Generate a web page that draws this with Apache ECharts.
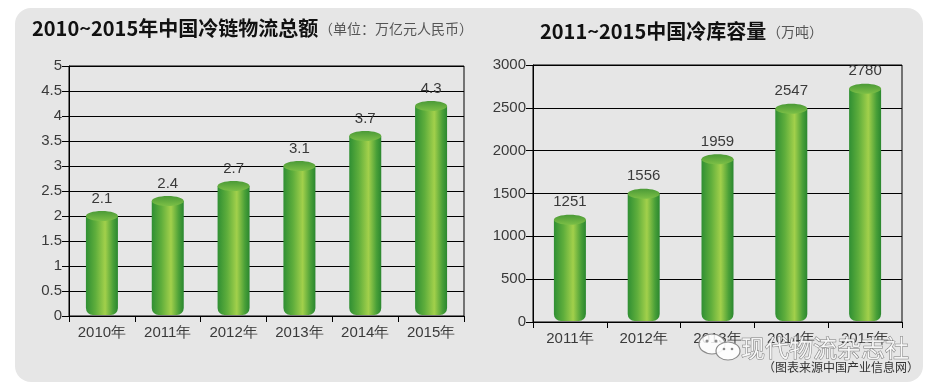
<!DOCTYPE html>
<html><head><meta charset="utf-8">
<script src="https://cdn.jsdelivr.net/npm/echarts@6/dist/echarts.min.js"></script>
<style>html,body{margin:0;padding:0;background:#fff}#c{width:929px;height:391px}</style>
</head><body><div id="c"></div>
<script>
// ---- data ----
const catsLeft = ['2010年', '2011年', '2012年', '2013年', '2014年', '2015年'];
const valsLeft = [2.1, 2.4, 2.7, 3.1, 3.7, 4.3];
const catsRight = ['2011年', '2012年', '2013年', '2014年', '2015年'];
const valsRight = [1251, 1556, 1959, 2547, 2780];
const titleLeft = '2010~2015年中国冷链物流总额';
const unitLeft = '（单位：万亿元人民币）';
const titleRight = '2011~2015中国冷库容量';
const unitRight = '（万吨）';
const watermark = '现代物流杂志社';
const sourceText = '（图表来源中国产业信息网）';

const chart = echarts.init(document.getElementById('c'), null, {renderer: 'canvas'});
const G = echarts.graphic;
const FONT = '"Liberation Sans", Arial, sans-serif';
const CJK = '"Noto Sans CJK SC", sans-serif';
const labelColor = '#3a3a3a';
const BW = 32, CAPH = 10;

function bodyColor() {
  return new G.LinearGradient(0, 0, 1, 0, [
    {offset: 0, color: '#2f8f33'},
    {offset: 0.3, color: '#5fae3c'},
    {offset: 0.6, color: '#a2d04b'},
    {offset: 0.85, color: '#4aa038'},
    {offset: 1, color: '#2a872f'}
  ]);
}
function capColor() {
  return new G.LinearGradient(0, 0, 0, 1, [
    {offset: 0, color: '#4b9a37'},
    {offset: 1, color: '#7cbf46'}
  ]);
}

function xAxis(idx, data) {
  return {
    type: 'category', gridIndex: idx, data: data,
    axisLine: {show: true, lineStyle: {color: '#000', width: 1}},
    axisTick: {show: true, length: 6, lineStyle: {color: '#000'}},
    axisLabel: {color: labelColor, fontSize: 15, fontFamily: FONT, margin: 9},
    splitLine: {show: false}
  };
}
function yAxis(idx, max, interval) {
  return {
    type: 'value', gridIndex: idx, min: 0, max: max, interval: interval,
    axisLine: {show: true, lineStyle: {color: '#000', width: 1}},
    axisTick: {show: true, length: 7, lineStyle: {color: '#000'}},
    axisLabel: {color: labelColor, fontSize: 15, fontFamily: FONT, margin: 7, formatter: v => String(v)},
    splitLine: {show: true, lineStyle: {color: '#000', width: 1}}
  };
}
function cylSeries(idx, vals) {
  return {
    type: 'custom', xAxisIndex: idx, yAxisIndex: idx, data: vals.map((v, i) => [i, v]),
    encode: {x: 0, y: 1}, clip: false, z: 3,
    renderItem: function (params, api) {
      const top = api.coord([api.value(0), api.value(1)]);
      const base = api.coord([api.value(0), 0]);
      const cx = top[0];
      const capCy = top[1] + CAPH / 2;
      const bottom = base[1] - 1;
      return {
        type: 'group',
        children: [
          {type: 'rect', shape: {x: cx - BW / 2, y: capCy, width: BW, height: bottom - capCy, r: [0, 0, 7, 7]}, style: {fill: bodyColor()}},
          {type: 'ellipse', shape: {cx: cx, cy: capCy, rx: BW / 2, ry: CAPH / 2}, style: {fill: capColor()}},
          {type: 'text', x: cx, y: top[1] - 5, style: {text: String(api.value(1)), font: '15px ' + FONT, fill: labelColor, textAlign: 'center', textVerticalAlign: 'bottom'}}
        ]
      };
    }
  };
}

chart.setOption({
  animation: false,
  backgroundColor: '#ffffff',
  grid: [
    {left: 69, right: 465, top: 66, bottom: 75, show: true, borderColor: '#000', borderWidth: 1, backgroundColor: 'transparent'},
    {left: 533, right: 27, top: 65, bottom: 69, show: true, borderColor: '#000', borderWidth: 1, backgroundColor: 'transparent'}
  ],
  xAxis: [xAxis(0, catsLeft), xAxis(1, catsRight)],
  yAxis: [yAxis(0, 5, 0.5), yAxis(1, 3000, 500)],
  series: [cylSeries(0, valsLeft), cylSeries(1, valsRight)],
  graphic: [
    {type: 'rect', z: -10, shape: {x: 15, y: 8, width: 908, height: 374, r: 16}, style: {fill: '#e6e6e6'}},
    {type: 'text', z: 10, x: 32, y: 28, style: {text: titleLeft, font: 'bold 20px ' + CJK, fill: '#111', textVerticalAlign: 'middle'}},
    {type: 'text', z: 10, x: 319, y: 29, style: {text: unitLeft, font: '14px ' + CJK, fill: '#555', textVerticalAlign: 'middle'}},
    {type: 'text', z: 10, x: 540, y: 31, style: {text: titleRight, font: 'bold 20px ' + CJK, fill: '#111', textVerticalAlign: 'middle'}},
    {type: 'text', z: 10, x: 767, y: 32, style: {text: unitRight, font: '14px ' + CJK, fill: '#555', textVerticalAlign: 'middle'}},
    {type: 'ellipse', z: 20, shape: {cx: 712, cy: 344, rx: 13, ry: 10}, style: {fill: 'rgba(255,255,255,0.85)', stroke: '#8a8a8a', lineWidth: 1.2}},
    {type: 'ellipse', z: 21, shape: {cx: 728, cy: 351, rx: 12, ry: 9}, style: {fill: 'rgba(255,255,255,0.9)', stroke: '#8a8a8a', lineWidth: 1.2}},
    {type: 'circle', z: 22, shape: {cx: 707, cy: 341, r: 1.5}, style: {fill: '#8a8a8a'}},
    {type: 'circle', z: 22, shape: {cx: 716, cy: 341, r: 1.5}, style: {fill: '#8a8a8a'}},
    {type: 'circle', z: 22, shape: {cx: 724, cy: 349, r: 1.3}, style: {fill: '#8a8a8a'}},
    {type: 'circle', z: 22, shape: {cx: 732, cy: 349, r: 1.3}, style: {fill: '#8a8a8a'}},
    {type: 'text', z: 20, x: 741, y: 348, style: {text: watermark, font: '24px ' + CJK, fill: 'rgba(255,255,255,0.85)', stroke: '#7a7a7a', lineWidth: 1, textVerticalAlign: 'middle'}},
    {type: 'text', z: 20, x: 763, y: 367, style: {text: sourceText, font: '12px ' + CJK, fill: '#333', textVerticalAlign: 'middle'}}
  ]
});
</script></body></html>
